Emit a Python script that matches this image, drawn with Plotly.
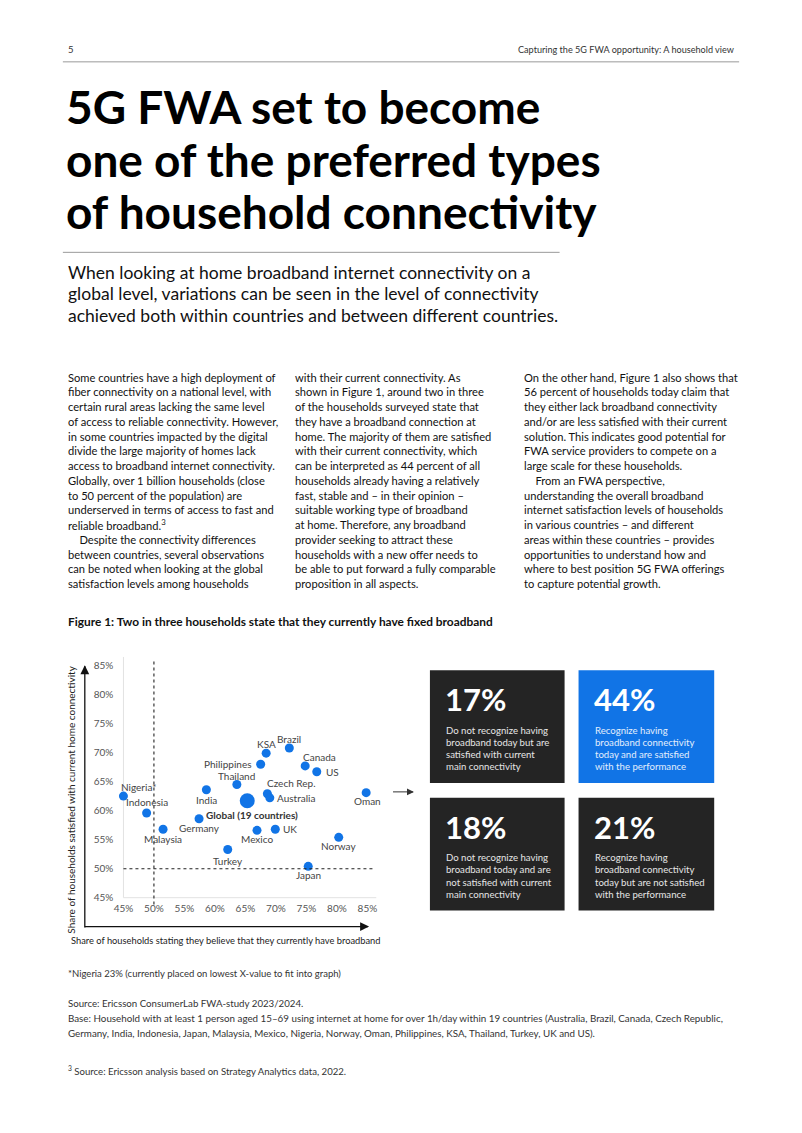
import plotly.graph_objects as go

# page is 802x1133; the HTML body adds an 8px margin, so the figure is drawn offset by 8px
PAGE_W, PAGE_H = 802, 1133
OFF = 8
W, H = PAGE_W - 2 * OFF, PAGE_H - 2 * OFF
FONT = "Lato"

# ---------------- data ----------------
countries = ["Nigeria*", "Indonesia", "Malaysia", "India", "Germany", "Turkey", "Thailand",
             "Philippines", "KSA", "Brazil", "Canada", "US", "Czech Rep.", "Australia",
             "Mexico", "UK", "Norway", "Japan", "Oman"]
have_broadband = [45.0, 48.8, 51.5, 58.6, 57.4, 62.1, 63.6, 67.5, 68.4, 72.2, 74.8, 76.7,
                  68.6, 69.0, 66.9, 69.9, 80.3, 75.3, 84.8]
satisfied = [62.5, 59.6, 56.8, 63.6, 58.6, 53.3, 64.5, 68.0, 69.9, 70.8, 67.7, 66.7,
             62.9, 62.2, 56.6, 56.8, 55.4, 50.4, 63.1]
global_label = ["Global (19 countries)"]
global_have = [65.3]
global_sat = [61.7]
threshold_have = 50
threshold_sat = 50

x_ticks = [45, 50, 55, 60, 65, 70, 75, 80, 85]
y_ticks = [45, 50, 55, 60, 65, 70, 75, 80, 85]

quad_values = ["17%", "44%", "18%", "21%"]
quad_texts = [
    ["Do not recognize having", "broadband today but are", "satisfied with current", "main connectivity"],
    ["Recognize having", "broadband connectivity", "today and are satisfied", "with the performance"],
    ["Do not recognize having", "broadband today and are", "not satisfied with current", "main connectivity"],
    ["Recognize having", "broadband connectivity", "today but are not satisfied", "with the performance"],
]

title_lines = ["5G FWA set to become", "one of the preferred types", "of household connectivity"]
intro_lines = [
    "When looking at home broadband internet connectivity on a",
    "global level, variations can be seen in the level of connectivity",
    "achieved both within countries and between different countries.",
]
IND = "&nbsp;&nbsp;&nbsp;&nbsp;"
col1 = [
    "Some countries have a high deployment of",
    "fiber connectivity on a national level, with",
    "certain rural areas lacking the same level",
    "of access to reliable connectivity. However,",
    "in some countries impacted by the digital",
    "divide the large majority of homes lack",
    "access to broadband internet connectivity.",
    "Globally, over 1 billion households (close",
    "to 50 percent of the population) are",
    "underserved in terms of access to fast and",
    "reliable broadband.<sup>3</sup>",
    IND + "Despite the connectivity differences",
    "between countries, several observations",
    "can be noted when looking at the global",
    "satisfaction levels among households",
]
col2 = [
    "with their current connectivity. As",
    "shown in Figure 1, around two in three",
    "of the households surveyed state that",
    "they have a broadband connection at",
    "home. The majority of them are satisfied",
    "with their current connectivity, which",
    "can be interpreted as 44 percent of all",
    "households already having a relatively",
    "fast, stable and – in their opinion –",
    "suitable working type of broadband",
    "at home. Therefore, any broadband",
    "provider seeking to attract these",
    "households with a new offer needs to",
    "be able to put forward a fully comparable",
    "proposition in all aspects.",
]
col3 = [
    "On the other hand, Figure 1 also shows that",
    "56 percent of households today claim that",
    "they either lack broadband connectivity",
    "and/or are less satisfied with their current",
    "solution. This indicates good potential for",
    "FWA service providers to compete on a",
    "large scale for these households.",
    IND + "From an FWA perspective,",
    "understanding the overall broadband",
    "internet satisfaction levels of households",
    "in various countries – and different",
    "areas within these countries – provides",
    "opportunities to understand how and",
    "where to best position 5G FWA offerings",
    "to capture potential growth.",
]
notes = [
    "*Nigeria 23% (currently placed on lowest X-value to fit into graph)",
    "Source: Ericsson ConsumerLab FWA-study 2023/2024.",
    "Base: Household with at least 1 person aged 15–69 using internet at home for over 1h/day within 19 countries (Australia, Brazil, Canada, Czech Republic,",
    "Germany, India, Indonesia, Japan, Malaysia, Mexico, Nigeria, Norway, Oman, Philippines, KSA, Thailand, Turkey, UK and US).",
]
footnote = "<sup>3</sup> Source: Ericsson analysis based on Strategy Analytics data, 2022."

# ---------------- label styles (anchor, dx px, dy px screen-down) ----------------
label_style = {
    "Nigeria*": ("left", -4, -9), "Indonesia": ("center", 0, -11), "Malaysia": ("center", 0, 10),
    "India": ("center", 0, 10), "Germany": ("center", 0, 9), "Turkey": ("center", 0, 11),
    "Thailand": ("center", 0, -9), "Philippines": ("right", -7, 0), "KSA": ("center", 0, -9),
    "Brazil": ("center", 0, -9), "Canada": ("left", -4, -9), "US": ("left", 7, 0),
    "Czech Rep.": ("left", -2, -11), "Australia": ("left", 5, 0), "Mexico": ("center", 0, 9),
    "UK": ("left", 6, 0), "Norway": ("center", 0, 9), "Japan": ("center", 0, 9),
    "Oman": ("center", 1, 8),
}

BLUE = "#1174E6"
DARK = "#242424"

def fx(px):
    return (px - OFF) / W

def fy(py):
    return 1 - (py - OFF) / H

fig = go.Figure()

fig.add_trace(go.Scatter(x=have_broadband, y=satisfied, mode="markers",
                         marker=dict(color=BLUE, size=9, line=dict(width=0)),
                         hoverinfo="skip", showlegend=False))
fig.add_trace(go.Scatter(x=global_have, y=global_sat, mode="markers",
                         marker=dict(color=BLUE, size=15, line=dict(width=0)),
                         hoverinfo="skip", showlegend=False))

annotations = []
for name, xv, yv in zip(countries, have_broadband, satisfied):
    anc, dx, dy = label_style[name]
    annotations.append(dict(x=xv, y=yv, xref="x", yref="y", text=name, showarrow=False,
                            xanchor=anc, yanchor="middle", xshift=dx, yshift=-dy,
                            font=dict(family=FONT, size=10, color="#444")))
annotations.append(dict(x=global_have[0], y=global_sat[0], xref="x", yref="y",
                        text="<b>" + global_label[0] + "</b>", showarrow=False,
                        xanchor="center", yanchor="middle", xshift=5, yshift=-14,
                        font=dict(family=FONT, size=10, color="#333")))

def txt(px, py, s, size, color="#111", anchor="left", bold=False, family=FONT, angle=0):
    if bold:
        s = "<b>" + s + "</b>"
    annotations.append(dict(x=fx(px), y=fy(py), xref="paper", yref="paper", text=s,
                            showarrow=False, xanchor=anchor, yanchor="middle",
                            textangle=angle,
                            font=dict(family=family, size=size, color=color)))

# header
txt(65, 50, "5", 9.5, "#333")
txt(737, 50, "Capturing the 5G FWA opportunity: A household view", 9.1, "#333", anchor="right")

# title
for i, line in enumerate(title_lines):
    txt(63, 107 + i * 52.5, line, 46, "#000", bold=True)

# intro
for i, line in enumerate(intro_lines):
    txt(65, 273 + i * 21.5, line, 17.5, "#111")

# body columns
for colx, col in ((65, col1), (293, col2), (522, col3)):
    for i, line in enumerate(col):
        txt(colx, 378 + i * 14.8, line, 11.15, "#111")

# figure caption
txt(65, 623, "Figure 1: Two in three households state that they currently have fixed broadband", 11.9, "#111", bold=True)

# axis titles
txt(70, 802, "Share of households satisfied with current home connectivity", 10, "#222", anchor="center", angle=-90)
txt(225, 943, "Share of households stating they believe that they currently have broadband", 9.3, "#222", anchor="center")

# quadrant boxes
boxes = [(430, 672, 565, 785, DARK), (579, 672, 715, 785, BLUE),
         (430, 800, 565, 913, DARK), (579, 800, 715, 913, DARK)]
shapes = []
for (x0, y0, x1, y1, c), val, lines in zip(boxes, quad_values, quad_texts):
    shapes.append(dict(type="rect", xref="paper", yref="paper", x0=fx(x0), x1=fx(x1),
                       y0=fy(y1), y1=fy(y0), fillcolor=c, line=dict(width=0), layer="below"))
    txt(x0 + 13, y0 + 29, val, 31, "#fff", bold=True)
    tcol = "#e6e6e6" if c == DARK else "#e3eefc"
    for j, ln in enumerate(lines):
        txt(x0 + 14, y0 + 60 + j * 12.2, ln, 9.6, tcol)

# notes
txt(65, 976, notes[0], 9.5, "#333")
txt(65, 1006, notes[1], 9.7, "#333")
txt(65, 1021, notes[2], 9.8, "#333")
txt(65, 1036, notes[3], 9.8, "#333")
txt(65, 1073, footnote, 9.6, "#333")

# arrows drawn as line + triangle head (paper coords)
def arrow(x0, y0, x1, y1, color, width, head):
    shapes.append(dict(type="line", xref="paper", yref="paper", x0=fx(x0), y0=fy(y0),
                       x1=fx(x1), y1=fy(y1), line=dict(color=color, width=width)))
    if x0 == x1:  # vertical up
        pts = [(x1, y1 - 1), (x1 - head * 0.55, y1 + head), (x1 + head * 0.55, y1 + head)]
    else:  # horizontal right
        pts = [(x1 + 1, y1), (x1 - head, y1 - head * 0.55), (x1 - head, y1 + head * 0.55)]
    path = "M " + " L ".join(f"{fx(a):.5f},{fy(b):.5f}" for a, b in pts) + " Z"
    shapes.append(dict(type="path", xref="paper", yref="paper", path=path,
                       fillcolor=color, line=dict(width=0)))

arrow(84, 930, 84, 668, "#111", 1.3, 8)
arrow(84, 929, 368, 929, "#111", 1.3, 8)
arrow(393, 794, 413, 794, "#333", 1, 6)

# rules
shapes.append(dict(type="line", xref="paper", yref="paper", x0=fx(62), x1=fx(740),
                   y0=fy(62), y1=fy(62), line=dict(color="#999", width=1)))
shapes.append(dict(type="line", xref="paper", yref="paper", x0=fx(62), x1=fx(560),
                   y0=fy(253), y1=fy(253), line=dict(color="#999", width=1)))

# chart guide lines
shapes.append(dict(type="line", xref="x", yref="y", x0=45, x1=86.5, y0=45, y1=45,
                   line=dict(color="#e2e2e2", width=1), layer="below"))
shapes.append(dict(type="line", xref="x", yref="y", x0=45, x1=45, y0=45, y1=86.5,
                   line=dict(color="#e2e2e2", width=1), layer="below"))
shapes.append(dict(type="line", xref="x", yref="paper", x0=threshold_have, x1=threshold_have,
                   y0=fy(907), y1=fy(662), line=dict(color="#222", width=1.1, dash="dot")))
shapes.append(dict(type="line", xref="x", yref="y", x0=45, x1=86, y0=threshold_sat, y1=threshold_sat,
                   line=dict(color="#222", width=1.1, dash="dot")))

# axes geometry: x 50->153.3px, 85->367.3px ; y 50->871px, 5.82 px per %
xs = (367.3 - 153.3) / 35.0
x_lo, x_hi = 43.5, 86.5
px_lo = 153.3 + (x_lo - 50) * xs
px_hi = 153.3 + (x_hi - 50) * xs
ys = 5.82
y_lo, y_hi = 44.5, 86.5
py_lo = 871 + (50 - y_lo) * ys
py_hi = 871 - (y_hi - 50) * ys

fig.update_layout(
    width=W, height=H, margin=dict(l=0, r=0, t=0, b=0),
    paper_bgcolor="white", plot_bgcolor="white",
    xaxis=dict(domain=[fx(px_lo), fx(px_hi)], range=[x_lo, x_hi], tickvals=x_ticks,
               ticktext=[f"{v}%" for v in x_ticks], showgrid=False, zeroline=False,
               showline=False, ticks="", tickfont=dict(family=FONT, size=10, color="#555")),
    yaxis=dict(domain=[fy(py_lo), fy(py_hi)], range=[y_lo, y_hi], tickvals=y_ticks,
               ticktext=[f"{v}%" for v in y_ticks], showgrid=False, zeroline=False,
               showline=False, ticks="", tickfont=dict(family=FONT, size=10, color="#555")),
    annotations=annotations, shapes=shapes,
)

fig.write_html("out.html")
